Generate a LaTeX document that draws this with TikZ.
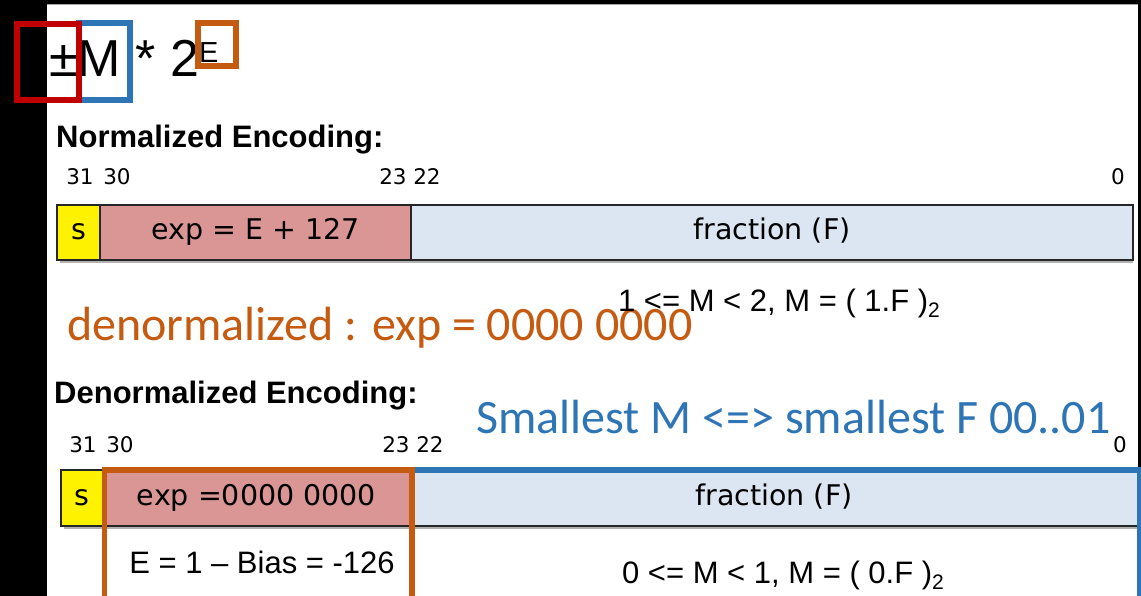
\documentclass[tikz,border=0pt]{standalone}
\usepackage{fontspec}
\setmainfont{Liberation Sans}
\newfontfamily\verdfont{DejaVu Sans}
\newfontfamily\califont{Carlito}
\usepackage{tikz}
\usetikzlibrary{positioning}
\usepackage{xcolor}
\definecolor{boxred}{HTML}{C00000}
\definecolor{boxblue}{HTML}{2E75B6}
\definecolor{boxorange}{HTML}{C55A11}
\definecolor{expfill}{HTML}{D99694}
\definecolor{fracfill}{HTML}{DCE6F2}
\newcommand{\basetwo}{\raisebox{-6pt}{\fontsize{21}{21}\selectfont 2}}

\begin{document}
\begin{tikzpicture}[x=1pt,y=-1pt,
    cell/.style={rectangle,draw=black!85,line width=1.2pt,minimum height=55pt,inner sep=0pt,outer sep=0pt,
        text height=21pt,text depth=6pt,font=\verdfont\fontsize{28.5}{30}\selectfont},
    bitnum/.style={anchor=base,inner sep=0pt,font=\verdfont\fontsize{21.5}{22}\selectfont},
    enctitle/.style={anchor=base west,inner sep=0pt,font=\bfseries\fontsize{31}{32}\selectfont},
    mrange/.style={anchor=base,inner sep=0pt,font=\fontsize{31}{32}\selectfont},
    remark/.style={anchor=base west,inner sep=0pt,font=\califont\fontsize{48}{50}\selectfont},
    hilite/.style={line width=5.5pt}]

\useasboundingbox (0,0) rectangle (1141,596);

% Slide
\fill[black] (0,0) rectangle (1141,596);
\fill[white] (47,4) rectangle (1138,596);
\draw[black!35,line width=0.8pt] (47,4.4) -- (1138,4.4);

% Formula
\node[anchor=base west,inner sep=0pt,font=\fontsize{52}{54}\selectfont] (formula) at (49,77)
    {±M * 2\raisebox{14.5pt}{\fontsize{29}{29}\selectfont E}};

% Normalized
\node[enctitle] (normtitle) at (56,147.5) {Normalized Encoding:};
\foreach \lbl/\px in {31/80,30/117,23/393,22/427,0/1118}
    \node[bitnum] (nb\lbl) at (\px,185) {\lbl};

\node[cell,fill=yellow,minimum width=43pt,anchor=west] (sn) at (57,232.5) {s};
\node[cell,fill=expfill,minimum width=311pt,right=0pt of sn] (en) {exp = E + 127};
\node[cell,fill=fracfill,minimum width=722pt,right=0pt of en] (fn) {fraction (F)};
\draw[black!30,line width=2pt] ([xshift=3pt,yshift=-2pt]sn.south west) -- ([yshift=-2pt]fn.south east);

\node[remark,text=boxorange] (denormnote) at (67,340) {denormalized : exp = 0000 0000};
\node[mrange] (normrange) at (779,311) {1 <= M < 2, M = ( 1.F )\basetwo};

% Denormalized
\node[enctitle] (denormtitle) at (54,403) {Denormalized Encoding:};
\node[remark,text=boxblue] (smallnote) at (476,433) {Smallest M <=> smallest F 00..01};
\foreach \lbl/\px in {31/83,30/120,23/396,22/430,0/1120}
    \node[bitnum] (db\lbl) at (\px,452) {\lbl};

\node[cell,fill=yellow,minimum width=42pt,minimum height=56pt,anchor=west] (sd) at (61,498) {s};
\node[cell,fill=expfill,minimum width=307pt,minimum height=56pt,right=0pt of sd] (ed) {exp =0000 0000};
\node[cell,fill=fracfill,minimum width=728pt,minimum height=56pt,right=0pt of ed] (fd) {fraction (F)};
\draw[black!30,line width=2pt] ([xshift=3pt,yshift=-2pt]sd.south west) -- ([yshift=-2pt]fd.south east);

\node[mrange] (ebias) at (262,573) {E = 1 -- Bias = -126};
\node[mrange] (denormrange) at (783,583) {0 <= M < 1, M = ( 0.F )\basetwo};

% Highlights
\draw[hilite,boxblue] (79,23) rectangle (130,100);
\draw[hilite,boxred] (17,24) rectangle (79,100);
\draw[hilite,boxorange] (198,23) rectangle (236,66);
\draw[hilite,boxblue] (412,470) rectangle (1139.5,610);
\draw[hilite,boxorange] (104.5,470) rectangle (412,610);

\end{tikzpicture}
\end{document}
